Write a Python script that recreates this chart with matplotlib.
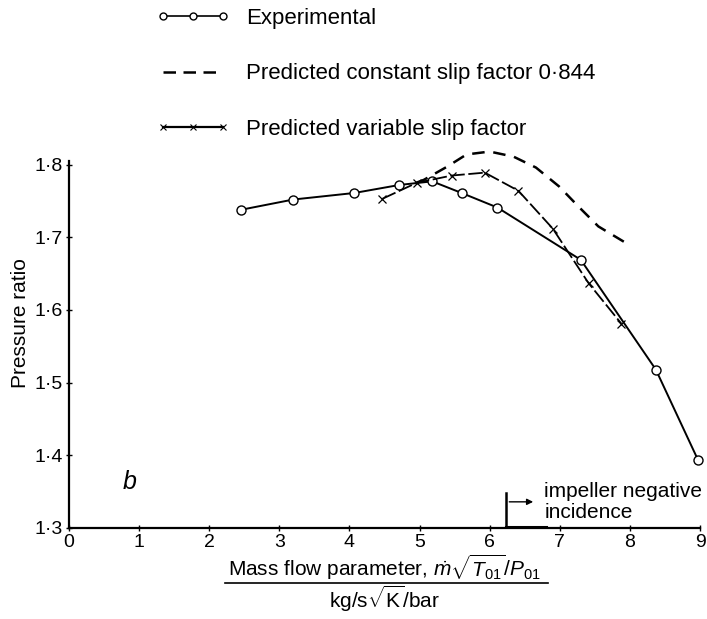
import matplotlib
matplotlib.use("Agg")
import matplotlib.pyplot as plt
from matplotlib.lines import Line2D

# ---- data ----
exp_x = [2.46, 3.20, 4.07, 4.71, 5.18, 5.60, 6.11, 7.30, 8.37, 8.97]
exp_y = [1.738, 1.752, 1.761, 1.772, 1.777, 1.761, 1.741, 1.669, 1.518, 1.394]

const_x = [4.95, 5.06, 5.39, 5.67, 6.00, 6.34, 6.66, 6.99, 7.27, 7.55, 7.93]
const_y = [1.775, 1.779, 1.797, 1.814, 1.818, 1.811, 1.796, 1.770, 1.742, 1.715, 1.693]

var_x = [4.47, 4.96, 5.46, 5.93, 6.41, 6.90, 7.41, 7.88]
var_y = [1.753, 1.775, 1.785, 1.789, 1.764, 1.712, 1.637, 1.581]

xticks = [0, 1, 2, 3, 4, 5, 6, 7, 8, 9]
yticks = [1.3, 1.4, 1.5, 1.6, 1.7, 1.8]
ytick_labels = ["1·3", "1·4", "1·5", "1·6", "1·7", "1·8"]

labels = ["Experimental", "Predicted constant slip factor 0·844",
          "Predicted variable slip factor"]

FAM = ["Liberation Sans", "DejaVu Sans"]
plt.rcParams["font.family"] = FAM
plt.rcParams["mathtext.fontset"] = "custom"
plt.rcParams["mathtext.rm"] = "Liberation Sans"
plt.rcParams["mathtext.it"] = "Liberation Sans:italic"
plt.rcParams["mathtext.bf"] = "Liberation Sans:bold"

W, H = 707, 619
x0, x9 = 69, 700
fig = plt.figure(figsize=(W/100, H/100), dpi=100)
ax = fig.add_axes([x0/W, 1 - 528/H, (x9 - x0)/W, (528 - 161)/H])

l1, = ax.plot(exp_x, exp_y, "-", color="black", lw=1.4, marker="o", ms=6.5,
              mfc="white", mec="black", mew=1.0, clip_on=False)
l2, = ax.plot(const_x, const_y, color="black", lw=1.8, ls=(0, (5, 3.5)),
              clip_on=False)
l3, = ax.plot(var_x, var_y, color="black", lw=1.3, ls=(0, (8, 2)),
              marker="x", ms=6, mew=0.9, clip_on=False)

ax.set_xlim(0, 9)
ax.set_ylim(1.3, 1.805)
ax.set_xticks(xticks)
ax.set_xticklabels([str(t) for t in xticks])
ax.set_yticks(yticks)
ax.set_yticklabels(ytick_labels)
ax.tick_params(axis="both", direction="inout", length=5, width=1,
               labelsize=14, pad=2)
for s in ["top", "right"]:
    ax.spines[s].set_visible(False)
for s in ["left", "bottom"]:
    ax.spines[s].set_linewidth(1.6)
ax.spines["left"].set_bounds(1.3, 1.805)

ax.set_ylabel("Pressure ratio", fontsize=15)
ax.yaxis.set_label_coords(-0.062, (528 - 323) / (528 - 161))

# x label as a fraction
cx = (x0 + x9) / 2 / W
fig.text(cx, 1 - 567/H,
         r"Mass flow parameter, $\dot{m}\sqrt{T_{01}}/P_{01}$",
         ha="center", va="center", fontsize=15)
fig.add_artist(Line2D([225/W, 548/W], [1 - 583/H, 1 - 583/H],
                      color="black", lw=1.2))
fig.text(cx, 1 - 599/H, r"kg/s$\sqrt{\mathrm{K}}$/bar",
         ha="center", va="center", fontsize=15)

ax.text(0.86, 1.363, "b", fontsize=18, style="italic", ha="center", va="center")

# impeller negative incidence marker
ax.plot([6.24, 6.24], [1.3, 1.348], color="black", lw=1.8)
ax.plot([6.24, 6.80], [1.301, 1.301], color="black", lw=2.2)
ax.annotate("", xy=(6.66, 1.336), xytext=(6.24, 1.336),
            arrowprops=dict(arrowstyle="-|>", color="black", lw=1.0,
                            mutation_scale=9))
ax.text(6.78, 1.3496, "impeller negative", fontsize=15, ha="left", va="center",
        clip_on=False)
ax.text(6.78, 1.322, "incidence", fontsize=15, ha="left", va="center")

# legend keys (proxy artists styled like the printed key)
k1 = Line2D([], [], color="black", lw=1.2, marker="o", ms=5, mfc="white",
            mec="black", mew=1.0)
k2 = Line2D([], [], color="black", lw=1.8, ls=(0, (5, 3)))
k3 = Line2D([], [], color="black", lw=1.6, marker="x", ms=5, mew=0.8)
leg = fig.legend([k1, k2, k3], labels, loc="upper left",
                 bbox_to_anchor=(156/W, 1 - 8/H),
                 bbox_transform=fig.transFigure, frameon=False,
                 numpoints=3, handlelength=3.3, handletextpad=0.75,
                 labelspacing=1.55, borderpad=0, borderaxespad=0,
                 fontsize=16)

fig.savefig("out.png", dpi=100)
